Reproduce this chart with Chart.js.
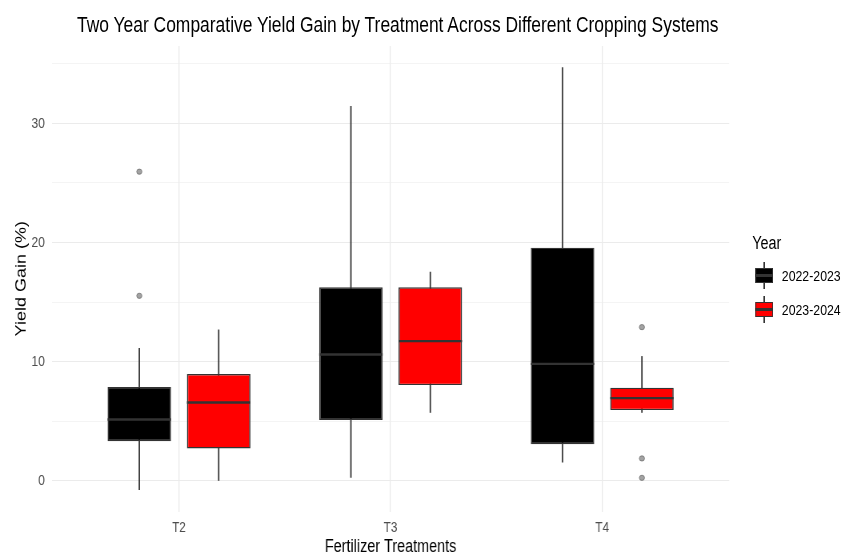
<!DOCTYPE html>
<html>
<head>
<meta charset="utf-8">
<script src="https://cdn.jsdelivr.net/npm/chart.js@4/dist/chart.umd.min.js"></script>
<style>
  html, body { margin:0; padding:0; background:#ffffff; overflow:hidden; }
  #wrap { position:absolute; left:0; top:0; width:1056px; height:558px; transform:scaleX(0.8002); transform-origin:0 0; font-family:"Liberation Sans", Arial, sans-serif; }
  #c { position:absolute; left:0; top:0; }
  .title { position:absolute; left:-3px; width:1000px; top:12px; height:26px; line-height:26px; text-align:center; font-size:21.8px; color:#000; white-space:nowrap; }
  .lgTitle { position:absolute; left:940px; top:233px; font-size:18px; line-height:21px; color:#000; }
  .lgText { position:absolute; left:977px; font-size:15.4px; line-height:17px; color:#000; white-space:nowrap; }
  .whisk { position:absolute; width:1.6px; background:#333333; }
  .kbox { position:absolute; box-sizing:border-box; border:1.2px solid #333333; }
  .kmed { position:absolute; height:2.2px; background:#333333; }
</style>
</head>
<body>
<div id="wrap">
  <canvas id="c" width="1056" height="558" style="width:1056px;height:558px"></canvas>
  <div class="title">Two Year Comparative Yield Gain by Treatment Across Different Cropping Systems</div>
  <div class="lgTitle">Year</div>
  <div id="legend"></div>
</div>
<script>
// ---- data ----
const categories = ['T2', 'T3', 'T4'];
const seriesNames = ['2022-2023', '2023-2024'];
const seriesColors = ['#000000', '#ff0000'];

const lo_2223  = [-0.78, 0.25, 1.54];
const q1_2223  = [3.33, 5.10, 3.08];
const med_2223 = [5.15, 10.61, 9.82];
const q3_2223  = [7.87, 16.24, 19.56];
const hi_2223  = [11.15, 31.46, 34.71];
const out_2223 = [[15.53, 25.95], [], []];

const lo_2324  = [0.00, 5.71, 5.71];
const q1_2324  = [2.72, 8.04, 5.94];
const med_2324 = [6.58, 11.73, 6.94];
const q3_2324  = [8.96, 16.24, 7.81];
const hi_2324  = [12.70, 17.55, 10.47];
const out_2324 = [[], [], [12.90, 1.88, 0.25]];

const yGridValues = [0, 5, 10, 15, 20, 25, 30, 35];
const yLabelValues = [0, 10, 20, 30];

const series = [
  { lo: lo_2223, q1: q1_2223, med: med_2223, q3: q3_2223, hi: hi_2223, out: out_2223 },
  { lo: lo_2324, q1: q1_2324, med: med_2324, q3: q3_2324, hi: hi_2324, out: out_2324 }
];

const FX = 0.8002; // horizontal compression applied to the wrapper
const LINE = '#333333';
const FONT = '"Liberation Sans", Arial, sans-serif';

const boxPlugin = {
  id: 'boxExtras',
  beforeDatasetsDraw(chart) {
    const y = chart.scales.y, ctx = chart.ctx;
    series.forEach((s, k) => {
      const meta = chart.getDatasetMeta(k);
      meta.data.forEach((bar, i) => {
        ctx.save();
        ctx.strokeStyle = LINE;
        ctx.lineWidth = 1.4 / FX;
        ctx.beginPath();
        ctx.moveTo(bar.x, y.getPixelForValue(s.lo[i]));
        ctx.lineTo(bar.x, y.getPixelForValue(s.hi[i]));
        ctx.stroke();
        ctx.restore();
      });
    });
  },
  afterDatasetsDraw(chart) {
    const y = chart.scales.y, ctx = chart.ctx;
    series.forEach((s, k) => {
      const meta = chart.getDatasetMeta(k);
      meta.data.forEach((bar, i) => {
        ctx.save();
        ctx.strokeStyle = LINE;
        ctx.lineWidth = 2.4;
        const ym = y.getPixelForValue(s.med[i]);
        ctx.beginPath();
        ctx.moveTo(bar.x - bar.width / 2, ym);
        ctx.lineTo(bar.x + bar.width / 2, ym);
        ctx.stroke();
        s.out[i].forEach(v => {
          const yo = y.getPixelForValue(v);
          ctx.beginPath();
          ctx.ellipse(bar.x, yo, 2.6 / FX, 2.6, 0, 0, Math.PI * 2);
          ctx.fillStyle = '#a3a3a3';
          ctx.fill();
          ctx.lineWidth = 0.8;
          ctx.strokeStyle = '#707070';
          ctx.stroke();
        });
        ctx.restore();
      });
    });
  }
};

new Chart(document.getElementById('c'), {
  type: 'bar',
  data: {
    datasets: series.map((s, k) => ({
      label: seriesNames[k],
      data: categories.map((c, i) => ({ x: i + 1, y: [s.q1[i], s.q3[i]] })),
      backgroundColor: seriesColors[k],
      borderColor: LINE,
      borderWidth: { top: 1.3, bottom: 1.3, left: 1.3 / FX, right: 1.3 / FX },
      borderSkipped: false,
      categoryPercentage: 0.75,
      barPercentage: 0.8
    }))
  },
  options: {
    responsive: false,
    animation: false,
    devicePixelRatio: 1,
    layout: { padding: { top: 46, right: 144.75, left: 0, bottom: 0 } },
    plugins: { legend: { display: false }, tooltip: { enabled: false }, title: { display: false } },
    scales: {
      x: {
        type: 'linear',
        min: 0.4, max: 3.6,
        offset: false,
        afterBuildTicks: s => { s.ticks = categories.map((c, i) => ({ value: i + 1 })); },
        ticks: {
          callback: v => categories[Math.round(v) - 1] ?? '',
          padding: 7.4, color: '#4d4d4d', autoSkip: false, maxRotation: 0,
          font: { family: FONT, size: 14.6 }
        },
        grid: { color: '#ebebeb', lineWidth: 1.1 / FX, drawTicks: false, offset: false },
        border: { display: false },
        title: { display: true, text: 'Fertilizer Treatments', color: '#000000', font: { family: FONT, size: 18 }, padding: { top: 0, bottom: 0 } },
        afterFit: s => { s.height = 46.5; }
      },
      y: {
        min: -2.575, max: 36.5,
        afterBuildTicks: s => { s.ticks = yGridValues.map(v => ({ value: v })); },
        ticks: {
          callback: v => yLabelValues.includes(v) ? String(v) : '',
          padding: 9, color: '#4d4d4d', font: { family: FONT, size: 15 }
        },
        grid: {
          color: '#ebebeb',
          lineWidth: c => (c.tick && yLabelValues.includes(c.tick.value)) ? 1.1 : 0.55,
          drawTicks: false
        },
        border: { display: false },
        title: { display: true, text: 'Yield Gain (%)', color: '#000000', font: { family: FONT, size: 18 }, padding: { top: 16, bottom: 0 } },
        afterFit: s => { s.width = 65; }
      }
    }
  },
  plugins: [boxPlugin]
});

// ---- legend (HTML) ----
const legend = document.getElementById('legend');
const keyCenters = [275.5, 309.5];
seriesNames.forEach((name, k) => {
  const cy = keyCenters[k];
  const w = document.createElement('div');
  w.className = 'whisk';
  w.style.left = (955 - 0.8) + 'px';
  w.style.top = (cy - 13.5) + 'px';
  w.style.height = '27px';
  legend.appendChild(w);
  const b = document.createElement('div');
  b.className = 'kbox';
  b.style.left = '943.75px';
  b.style.width = '22.5px';
  b.style.top = (cy - 7.5) + 'px';
  b.style.height = '15px';
  b.style.background = seriesColors[k];
  legend.appendChild(b);
  const m = document.createElement('div');
  m.className = 'kmed';
  m.style.left = '943.75px';
  m.style.width = '22.5px';
  m.style.top = (cy - 1.1) + 'px';
  legend.appendChild(m);
  const t = document.createElement('div');
  t.className = 'lgText';
  t.style.top = (cy - 8.5) + 'px';
  t.textContent = name;
  legend.appendChild(t);
});
</script>
</body>
</html>
